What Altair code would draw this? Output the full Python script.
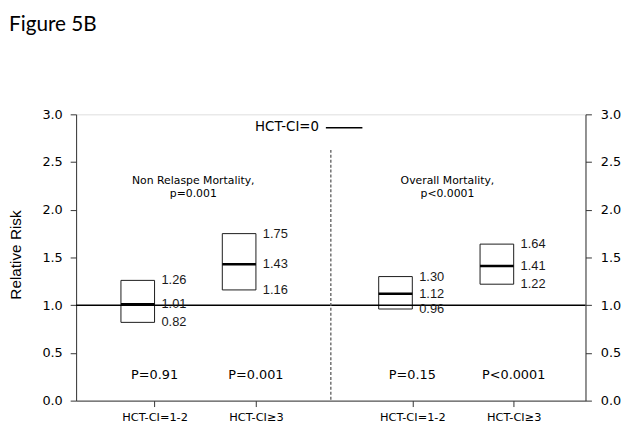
import altair as alt
import pandas as pd

# ---- data ----
groups = ["HCT-CI=1-2", "HCT-CI≥3", "HCT-CI=1-2", "HCT-CI≥3"]
xpos = [1.54, 3.53, 6.6, 8.59]
rr = [1.01, 1.43, 1.12, 1.41]
lower = [0.82, 1.16, 0.96, 1.22]
upper = [1.26, 1.75, 1.30, 1.64]
pvals = ["P=0.91", "P=0.001", "P=0.15", "P<0.0001"]
panels = ["Non Relaspe Mortality,\np=0.001", "Overall Mortality,\np<0.0001"]
panel_x = [2.3, 7.29]
y_ticks = [0, 0.5, 1.0, 1.5, 2.0, 2.5, 3.0]
ref_value = [1.0]
ref_label = "HCT-CI=0"
divider_x = 5
fig_title = "Figure 5B"

# ---- style ----
BOX_W = 0.66
W, H = 516, 290
AX = "#333333"

df = pd.DataFrame({"group": groups, "x": xpos, "rr": rr, "lo": lower, "hi": upper, "p": pvals})
df["x0"] = df["x"] - BOX_W
df["rr_t"] = df["rr"].map(lambda v: f"{v:.2f}")
df["lo_t"] = df["lo"].map(lambda v: f"{v:.2f}")
df["hi_t"] = df["hi"].map(lambda v: f"{v:.2f}")

# label expression for category ticks
expr = f"'{groups[-1]}'"
for i in range(len(xpos) - 2, -1, -1):
    thr = (xpos[i] + xpos[i + 1]) / 2
    expr = f"datum.value < {thr} ? '{groups[i]}' : ({expr})"

xs = alt.Scale(domain=[0, 10], nice=False, zero=False)
ys = alt.Scale(domain=[0, 3], nice=False, zero=False)

xaxis = alt.Axis(orient="bottom", values=xpos, labelExpr=expr, grid=False, tickSize=6,
                 labelPadding=5, labelFont="DejaVu Sans", labelFontSize=11.5,
                 labelColor="black", domainColor=AX, tickColor=AX, title=None)

left_axis = alt.Axis(orient="left", values=y_ticks, format=".1f", grid=False, tickSize=6,
                     labelPadding=8, labelFont="DejaVu Sans", labelFontSize=13,
                     labelColor="black", domainColor=AX, tickColor=AX,
                     title="Relative Risk", titleFont="Liberation Sans", titleFontSize=15.5,
                     titleFontWeight="normal", titleColor="black", titleX=-61, titleY=142,
                     titleAngle=270, titleAlign="center", titleBaseline="middle")

right_axis = alt.Axis(orient="right", values=y_ticks, format=".1f", grid=False, tickSize=6,
                      labelPadding=9, labelFont="DejaVu Sans", labelFontSize=13,
                      labelColor="black", domainColor=AX, tickColor=AX, title=None)


def X(f):
    return alt.X(f, type="quantitative", scale=xs, axis=xaxis, title=None)


def Y(f, axis=None):
    return alt.Y(f, type="quantitative", scale=ys, axis=axis, title=None if axis is None else "Relative Risk")


base = alt.Chart(df)

boxes = base.mark_rect(fill="white", stroke="#1a1a1a", strokeWidth=1).encode(
    x=X("x0"), x2="x:Q", y=Y("lo", left_axis), y2="hi:Q"
)

refline = alt.Chart(pd.DataFrame({"y": ref_value})).mark_rule(color="black", strokeWidth=1.5).encode(
    y=Y("y", right_axis)
)

median = base.mark_rule(color="black", strokeWidth=2.5).encode(
    x=X("x0"), x2="x:Q", y=Y("rr")
)

txt = dict(align="left", baseline="middle", dx=7, font="Liberation Sans", fontSize=13, color="#1a1a1a")
lab_hi = base.mark_text(**txt).encode(x=X("x"), y=Y("hi"), text="hi_t:N")
lab_rr = base.mark_text(**txt).encode(x=X("x"), y=Y("rr"), text="rr_t:N")
lab_lo = base.mark_text(**txt).encode(x=X("x"), y=Y("lo"), text="lo_t:N")

plabs = base.mark_text(align="center", baseline="middle", font="DejaVu Sans", fontSize=13,
                       color="black").encode(x=X("x"), y=alt.value(264), text="p:N")

ann = alt.Chart(pd.DataFrame({"t": panels, "x": panel_x})).mark_text(
    align="center", baseline="middle", font="DejaVu Sans", fontSize=11, lineHeight=12.5,
    lineBreak="\n", color="black"
).encode(x=X("x"), y=alt.value(68), text="t:N")

divider = alt.Chart(pd.DataFrame({"x": [divider_x]})).mark_rule(
    color="#707070", strokeDash=[3, 2], strokeWidth=1.5
).encode(x=X("x"), y=alt.value(36), y2=alt.value(H))

leg_text = alt.Chart(pd.DataFrame({"t": [ref_label]})).mark_text(
    align="right", baseline="middle", font="DejaVu Sans", fontSize=13.5, color="black"
).encode(x=alt.value(246), y=alt.value(13), text="t:N")

leg_line = alt.Chart(pd.DataFrame({"t": [ref_label]})).mark_rule(color="black", strokeWidth=1.5).encode(
    x=alt.value(253), x2=alt.value(290), y=alt.value(13.5)
)

title = alt.Chart(pd.DataFrame({"t": [fig_title]})).mark_text(
    align="left", baseline="alphabetic", font="Lato", fontSize=21, color="black"
).encode(x=alt.value(-68), y=alt.value(-84), text="t:N")

chart = alt.layer(
    boxes, refline, median, lab_hi, lab_rr, lab_lo, plabs, ann, divider, leg_text, leg_line, title
).resolve_scale(y="independent").properties(
    width=W, height=H,
    autosize=alt.AutoSizeParams(type="none"),
    padding={"left": 69, "top": 105, "right": 39, "bottom": 24},
).configure_view(stroke=AX, strokeWidth=1).configure(background="white")

chart.save("out.html", embed_options={"renderer": "svg", "actions": False})
